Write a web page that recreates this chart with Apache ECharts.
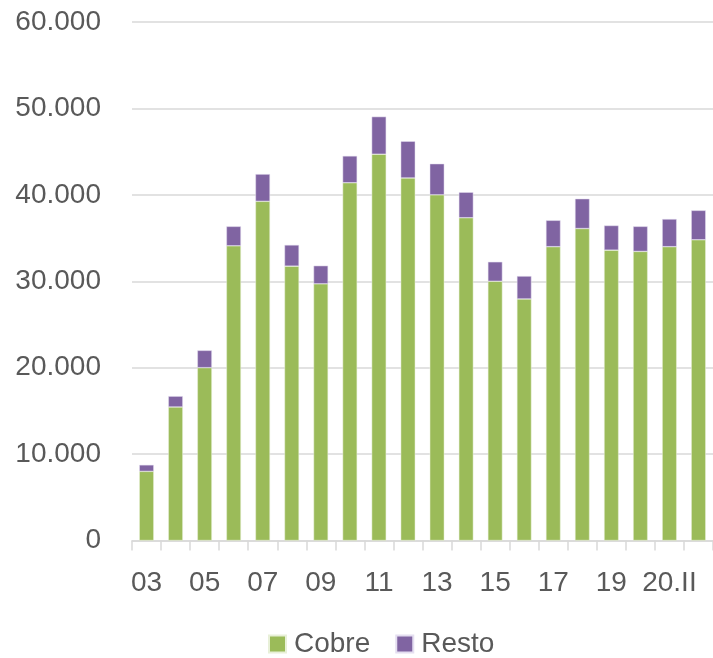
<!DOCTYPE html>
<html>
<head>
<meta charset="utf-8">
<script src="https://cdn.jsdelivr.net/npm/echarts@6/dist/echarts.min.js"></script>
<style>
html,body{margin:0;padding:0;background:#fff;}
#chart{width:713px;height:658px;}
</style>
</head>
<body>
<div id="chart"></div>
<script>
var categories = ['03','04','05','06','07','08','09','10','11','12','13','14','15','16','17','18','19','20.I','20.II','20.III'];
var cobre = [8000,15450,20000,34100,39250,31750,29700,41400,44700,41950,40000,37350,30000,27950,34000,36100,33600,33450,34000,34800];
var resto = [750,1250,2000,2250,3150,2450,2100,3100,4350,4250,3600,2950,2250,2650,3050,3450,2850,2900,3200,3400];
var yTicks = [0,10000,20000,30000,40000,50000,60000];

var chart = echarts.init(document.getElementById('chart'));
var txt = '#595959';
var fnt = '"Liberation Sans", Arial, sans-serif';

function fmt(v){
    return String(v).replace(/\B(?=(\d{3})+(?!\d))/g, '.');
}

var option = {
    animation: false,
    color: ['#9BBB59','#8064A2'],
    textStyle: {fontFamily: fnt},
    grid: {left: 132, top: 22, width: 583, bottom: 117.5, containLabel: false},
    legend: {
        left: 263,
        top: 625,
        itemWidth: 17,
        itemHeight: 17,
        itemGap: 25,
        icon: 'rect',
        textStyle: {color: txt, fontSize: 28, fontFamily: fnt, padding: [0,0,0,3]},
        data: ['Cobre','Resto']
    },
    xAxis: {
        type: 'category',
        data: categories,
        axisLine: {lineStyle: {color: '#d9d9d9', width: 1.5}},
        axisTick: {show: true, length: 10, interval: 0, lineStyle: {color: '#d9d9d9', width: 1.5}},
        axisLabel: {interval: 1, color: txt, fontSize: 28, fontFamily: fnt, margin: 29}
    },
    yAxis: {
        type: 'value',
        min: yTicks[0],
        max: yTicks[yTicks.length - 1],
        interval: 10000,
        axisLine: {show: false},
        axisTick: {show: false},
        splitLine: {lineStyle: {color: '#d9d9d9', width: 1.5}},
        axisLabel: {color: txt, fontSize: 28, fontFamily: fnt, margin: 31, formatter: fmt}
    },
    series: [
        {name: 'Cobre', type: 'bar', stack: 'tot', barWidth: '50%', data: cobre,
         itemStyle: {borderColor: '#e8f0d8', borderWidth: 0.5}},
        {name: 'Resto', type: 'bar', stack: 'tot', barWidth: '50%', data: resto,
         itemStyle: {borderColor: '#e4def0', borderWidth: 0.5}}
    ]
};
chart.setOption(option);
</script>
</body>
</html>
